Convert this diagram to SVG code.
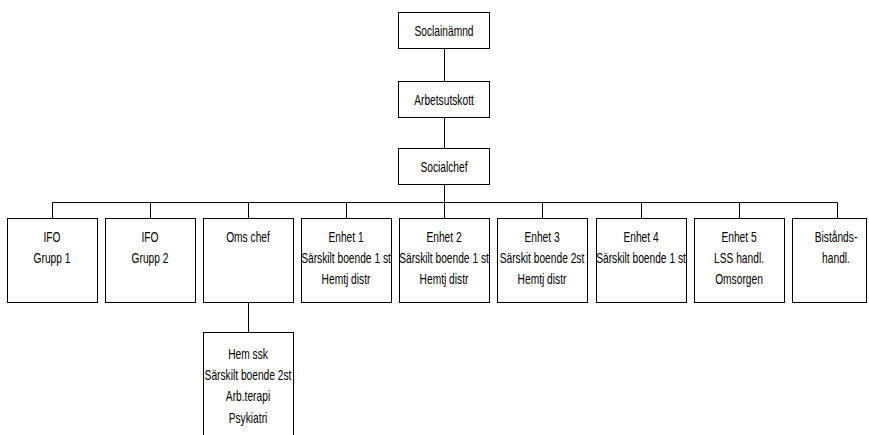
<svg xmlns="http://www.w3.org/2000/svg" width="869" height="435" viewBox="0 0 869 435">
<style>
rect{fill:#fff;stroke:#000;stroke-width:1}
.c line{stroke:#000;stroke-width:1}
text{font-family:"Liberation Sans",Arial,sans-serif;font-size:14px;fill:#000;text-anchor:middle}
</style>
<rect x="0" y="0" width="869" height="435" style="stroke:none"/>
<g class="c" id="connectors">
<line x1="444.5" y1="48.5" x2="444.5" y2="81.5"/>
<line x1="444.5" y1="117.5" x2="444.5" y2="148.5"/>
<line x1="444.5" y1="184.5" x2="444.5" y2="202.5"/>
<line x1="52.5" y1="202.5" x2="837.5" y2="202.5"/>
<line x1="52.5" y1="202.5" x2="52.5" y2="218.5"/>
<line x1="150.5" y1="202.5" x2="150.5" y2="218.5"/>
<line x1="248.5" y1="202.5" x2="248.5" y2="218.5"/>
<line x1="346.5" y1="202.5" x2="346.5" y2="218.5"/>
<line x1="444.5" y1="202.5" x2="444.5" y2="218.5"/>
<line x1="542.5" y1="202.5" x2="542.5" y2="218.5"/>
<line x1="641.5" y1="202.5" x2="641.5" y2="218.5"/>
<line x1="739.5" y1="202.5" x2="739.5" y2="218.5"/>
<line x1="837.5" y1="202.5" x2="837.5" y2="218.5"/>
<line x1="248.5" y1="302.5" x2="248.5" y2="332.5"/>
</g>
<g id="soclainamnd">
<rect x="398.5" y="12.5" width="91" height="36"/>
<text transform="translate(444 35.5) scale(0.73 1)">Soclainämnd</text>
</g>
<g id="arbetsutskott">
<rect x="398.5" y="81.5" width="91" height="36"/>
<text transform="translate(444 104.5) scale(0.73 1)">Arbetsutskott</text>
</g>
<g id="socialchef">
<rect x="398.5" y="148.5" width="91" height="36"/>
<text transform="translate(444 171.5) scale(0.73 1)">Socialchef</text>
</g>
<g id="ifo1">
<rect x="7.5" y="218.5" width="90" height="84"/>
<text transform="translate(52 241.5) scale(0.73 1)"><tspan x="0">IFO</tspan><tspan x="0" dy="21.5">Grupp 1</tspan></text>
</g>
<g id="ifo2">
<rect x="105.5" y="218.5" width="90" height="84"/>
<text transform="translate(150 241.5) scale(0.73 1)"><tspan x="0">IFO</tspan><tspan x="0" dy="21.5">Grupp 2</tspan></text>
</g>
<g id="omschef">
<rect x="203.5" y="218.5" width="90" height="84"/>
<text transform="translate(248 241.5) scale(0.73 1)">Oms chef</text>
</g>
<g id="enhet1">
<rect x="301.5" y="218.5" width="90" height="84"/>
<text transform="translate(346 241.5) scale(0.73 1)"><tspan x="0">Enhet 1</tspan><tspan x="0" dy="21.5">Särskilt boende 1 st</tspan><tspan x="0" dy="21.5">Hemtj distr</tspan></text>
</g>
<g id="enhet2">
<rect x="399.5" y="218.5" width="90" height="84"/>
<text transform="translate(444 241.5) scale(0.73 1)"><tspan x="0">Enhet 2</tspan><tspan x="0" dy="21.5">Särskilt boende 1 st</tspan><tspan x="0" dy="21.5">Hemtj distr</tspan></text>
</g>
<g id="enhet3">
<rect x="497.5" y="218.5" width="90" height="84"/>
<text transform="translate(542 241.5) scale(0.73 1)"><tspan x="0">Enhet 3</tspan><tspan x="0" dy="21.5">Särskit boende 2st</tspan><tspan x="0" dy="21.5">Hemtj distr</tspan></text>
</g>
<g id="enhet4">
<rect x="596.5" y="218.5" width="90" height="84"/>
<text transform="translate(641 241.5) scale(0.73 1)"><tspan x="0">Enhet 4</tspan><tspan x="0" dy="21.5">Särskilt boende 1 st</tspan></text>
</g>
<g id="enhet5">
<rect x="694.5" y="218.5" width="90" height="84"/>
<text transform="translate(739 241.5) scale(0.73 1)"><tspan x="0">Enhet 5</tspan><tspan x="0" dy="21.5">LSS handl.</tspan><tspan x="0" dy="21.5">Omsorgen</tspan></text>
</g>
<g id="bistand">
<rect x="792.5" y="218.5" width="74" height="84"/>
<text transform="translate(836 241.5) scale(0.73 1)"><tspan x="0">Bistånds-</tspan><tspan x="0" dy="21.5">handl.</tspan></text>
</g>
<g id="hemssk">
<rect x="203.5" y="332.5" width="90" height="110"/>
<text transform="translate(248 358.5) scale(0.73 1)"><tspan x="0">Hem ssk</tspan><tspan x="0" dy="21.5">Särskilt boende 2st</tspan><tspan x="0" dy="21.5">Arb.terapi</tspan><tspan x="0" dy="21.5">Psykiatri</tspan></text>
</g>
</svg>
